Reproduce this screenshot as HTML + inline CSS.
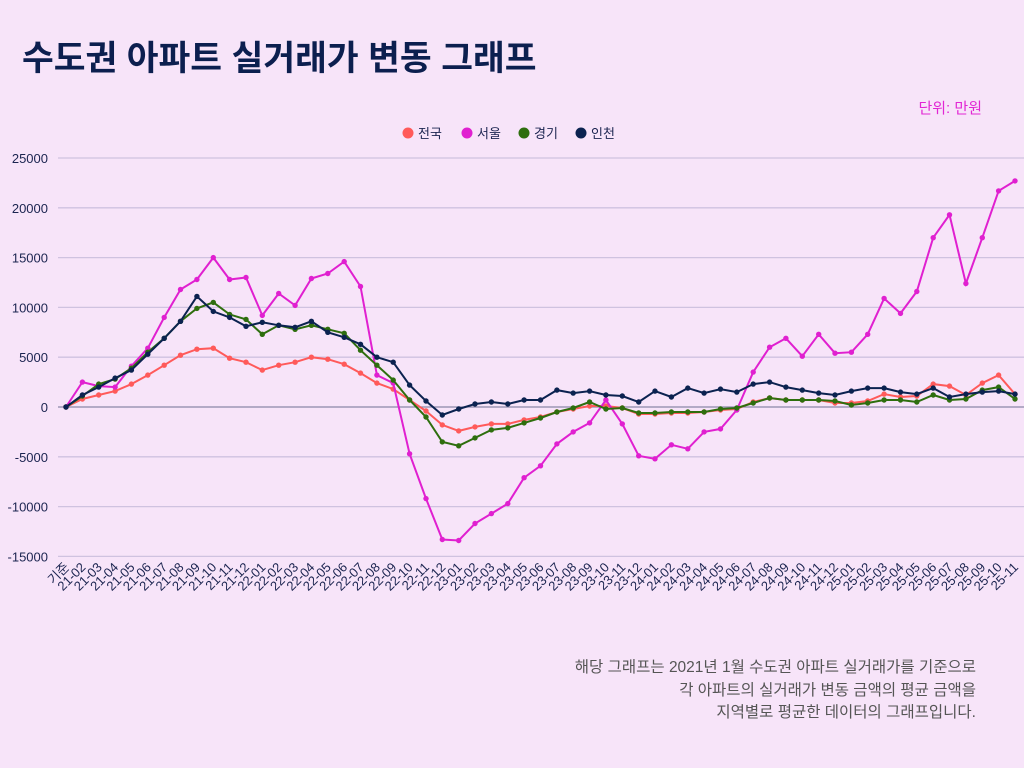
<!DOCTYPE html>
<html><head><meta charset="utf-8">
<style>
html,body{margin:0;padding:0;}
body{width:1024px;height:768px;background:#f7e4f9;position:relative;overflow:hidden;font-family:"Liberation Sans","Noto Sans CJK KR",sans-serif;}
.t{position:absolute;left:22px;top:30px;font-size:34.5px;font-weight:bold;color:#0c1f4f;letter-spacing:0px;}
.u{position:absolute;right:42px;top:97px;font-size:15px;color:#e226d4;}
.n{position:absolute;right:48px;top:657px;font-size:15.5px;line-height:22.5px;color:#555;text-align:right;}
svg{position:absolute;left:0;top:0;}
</style></head><body>
<div class="t">수도권 아파트 실거래가 변동 그래프</div>
<div class="u">단위: 만원</div>
<div class="n">해당 그래프는 2021년 1월 수도권 아파트 실거래가를 기준으로<br>각 아파트의 실거래가 변동 금액의 평균 금액을<br>지역별로 평균한 데이터의 그래프입니다.</div>
<svg id="s" width="1024" height="768" xmlns="http://www.w3.org/2000/svg"></svg>
<script>
var S=document.getElementById('s'),h='';
function Y(v){return 407-v*9.96;}
function X(i){return 66+i*16.362;}
for(var v=-15;v<=25;v+=5){var y=Y(v);h+='<line x1="58" x2="1024" y1="'+y+'" y2="'+y+'" stroke="'+(v==0?'#8a86a8':'#cfc2e0')+'" stroke-width="1.3"/>';
h+='<text x="48" y="'+(y+5)+'" text-anchor="end" font-size="13" fill="#1b2450" font-family="Liberation Sans">'+(v*1000)+'</text>';}
var labs=['기준'];for(var yy=21;yy<=25;yy++)for(var m=1;m<=12;m++){if(yy==21&&m==1)continue;if(yy==25&&m>11)continue;labs.push(yy+'-'+(m<10?'0':'')+m);}
labs.forEach(function(l,i){var x=X(i)+4,y=568;h+='<text x="'+x+'" y="'+y+'" text-anchor="end" font-size="13" fill="#1b2450" transform="rotate(-45 '+x+' '+y+')">'+l+'</text>';});
var D={
'#ff5a5a':[0,0.8,1.2,1.6,2.3,3.2,4.2,5.2,5.8,5.9,4.9,4.5,3.7,4.2,4.5,5.0,4.8,4.3,3.4,2.4,1.8,0.7,-0.4,-1.8,-2.4,-2.0,-1.7,-1.7,-1.3,-1.0,-0.5,-0.2,0.1,0.1,-0.1,-0.7,-0.7,-0.6,-0.6,-0.5,-0.3,-0.2,0.5,0.9,0.7,0.7,0.7,0.4,0.4,0.6,1.3,1.0,1.1,2.3,2.1,1.2,2.4,3.2,1.3],
'#e020d0':[0,2.5,2.1,2.0,4.1,5.9,9.0,11.8,12.8,15.0,12.8,13.0,9.2,11.4,10.2,12.9,13.4,14.6,12.1,3.2,2.4,-4.7,-9.2,-13.3,-13.4,-11.7,-10.7,-9.7,-7.1,-5.9,-3.7,-2.5,-1.6,0.7,-1.7,-4.9,-5.2,-3.8,-4.2,-2.5,-2.2,-0.3,3.5,6.0,6.9,5.1,7.3,5.4,5.5,7.3,10.9,9.4,11.6,17.0,19.3,12.4,17.0,21.7,22.7],
'#2e6e0e':[0,1.1,2.3,2.8,3.9,5.5,6.9,8.6,9.9,10.5,9.3,8.8,7.3,8.2,7.8,8.2,7.8,7.4,5.7,4.2,2.7,0.7,-1.0,-3.5,-3.9,-3.1,-2.3,-2.1,-1.6,-1.1,-0.5,-0.1,0.5,-0.2,-0.1,-0.6,-0.6,-0.5,-0.5,-0.5,-0.2,-0.1,0.4,0.9,0.7,0.7,0.7,0.6,0.2,0.4,0.7,0.7,0.5,1.2,0.7,0.8,1.7,2.0,0.8],
'#0b2250':[0,1.2,2.0,2.9,3.7,5.3,6.9,8.6,11.1,9.6,9.0,8.1,8.5,8.2,8.0,8.6,7.5,7.0,6.3,5.0,4.5,2.2,0.6,-0.8,-0.2,0.3,0.5,0.3,0.7,0.7,1.7,1.4,1.6,1.2,1.1,0.5,1.6,1.0,1.9,1.4,1.8,1.5,2.3,2.5,2.0,1.7,1.4,1.2,1.6,1.9,1.9,1.5,1.3,1.9,1.0,1.3,1.5,1.6,1.3]};
for(var c in D){var p=D[c].map(function(v,i){return X(i).toFixed(1)+','+Y(v).toFixed(1);});
h+='<polyline points="'+p.join(' ')+'" fill="none" stroke="'+c+'" stroke-width="2"/>';
p.forEach(function(q){var a=q.split(',');h+='<circle cx="'+a[0]+'" cy="'+a[1]+'" r="2.7" fill="'+c+'"/>';});}
var L=[['#ff5a5a','전국',408],['#e020d0','서울',467],['#2e6e0e','경기',524],['#0b2250','인천',581]];
L.forEach(function(l){h+='<circle cx="'+l[2]+'" cy="133" r="5.5" fill="'+l[0]+'"/><text x="'+(l[2]+10)+'" y="138" font-size="13" fill="#1b2450">'+l[1]+'</text>';});
S.innerHTML=h;
</script>
</body></html>
